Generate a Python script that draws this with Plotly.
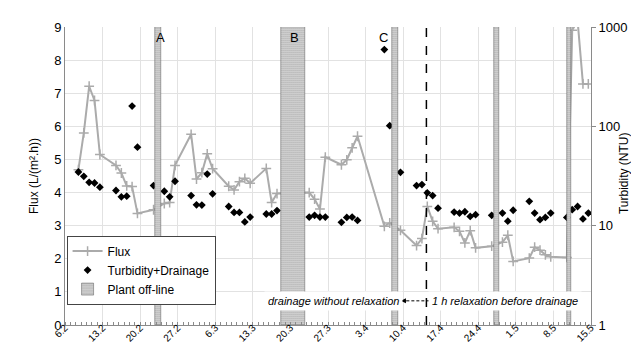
import plotly.graph_objects as go
from datetime import datetime

# ---------------- data ----------------
sample_dates = [
    "2010-02-08", "2010-02-09", "2010-02-10", "2010-02-11", "2010-02-12",
    "2010-02-15", "2010-02-16", "2010-02-17", "2010-02-18", "2010-02-19",
    "2010-02-22", "2010-02-24", "2010-02-25", "2010-02-26",
    "2010-03-01", "2010-03-02", "2010-03-03", "2010-03-04", "2010-03-05",
    "2010-03-08", "2010-03-09", "2010-03-10", "2010-03-11", "2010-03-12",
    "2010-03-15", "2010-03-16", "2010-03-17",
    "2010-03-23", "2010-03-24", "2010-03-25", "2010-03-26",
    "2010-03-29", "2010-03-30", "2010-03-31", "2010-04-01",
    "2010-04-06", "2010-04-07", "2010-04-09",
    "2010-04-12", "2010-04-13", "2010-04-14", "2010-04-15", "2010-04-16",
    "2010-04-19", "2010-04-20", "2010-04-21", "2010-04-22", "2010-04-23",
    "2010-04-26", "2010-04-28", "2010-04-29", "2010-04-30",
    "2010-05-03", "2010-05-04", "2010-05-05", "2010-05-06", "2010-05-07",
    "2010-05-10", "2010-05-11", "2010-05-12", "2010-05-13", "2010-05-14",
]
sample_time = "12:00"

flux = [
    4.69, 5.80, 7.21, 6.78, 5.15,
    4.82, 4.59, 4.20, 4.18, 3.37,
    3.48, 3.67, 3.70, 4.82,
    5.76, 4.41, 4.60, 5.17, 4.72,
    4.19, 4.08, 4.33, 4.43, 4.28,
    4.73, 3.70, 3.97,
    4.00, 3.80, 3.50, 5.07,
    4.84, 4.99, 5.35, 5.70,
    2.98, 3.08, 2.86,
    2.40, 2.61, 3.58, 3.13, 2.91,
    2.95, 2.83, 2.48, 2.85, 2.33,
    2.38, 2.50, 2.71, 1.92,
    2.02, 2.35, 2.26, 2.12, 2.06,
    2.04, 8.90, 9.20, 7.28, 7.28,
]

turbidity = [
    34.7, 31.4, 27.3, 26.9, 24.4,
    22.6, 19.5, 19.8, 160.0, 61.7,
    25.3, 22.2, 19.5, 28.0,
    20.1, 16.2, 16.1, 33.1, 20.9,
    15.6, 13.6, 13.6, 10.9, 12.2,
    13.1, 13.1, 14.2,
    12.2, 12.7, 12.2, 12.2,
    10.8, 12.1, 12.2, 11.3,
    593.0, 101.5, 34.4,
    25.3, 25.9, 21.4, 20.1, 15.0,
    13.7, 13.4, 13.8, 12.4, 12.9,
    12.7, 13.4, 11.1, 14.3,
    17.6, 13.4, 11.5, 12.1, 13.4,
    12.1, 14.5, 15.6, 11.7, 13.4,
]

offline_start = ["2010-02-22 19:00", "2010-03-18 07:00", "2010-04-08 00:00",
                 "2010-04-26 21:00", "2010-05-10 14:00"]
offline_end = ["2010-02-23 22:00", "2010-03-22 17:00", "2010-04-08 23:00",
               "2010-04-27 19:00", "2010-05-11 07:00"]

tick_dates = ["2010-02-06", "2010-02-13", "2010-02-20", "2010-02-27",
              "2010-03-06", "2010-03-13", "2010-03-20", "2010-03-27",
              "2010-04-03", "2010-04-10", "2010-04-17", "2010-04-24",
              "2010-05-01", "2010-05-08", "2010-05-15"]
tick_labels = ["6.2", "13.2", "20.2", "27.2", "6.3", "13.3", "20.3", "27.3",
               "3.4", "10.4", "17.4", "24.4", "1.5", "8.5", "15.5"]

# ---------------- build ----------------
x_pts = [f"{d} {sample_time}" for d in sample_dates]

fmt = "%Y-%m-%d %H:%M"
band_center, band_width = [], []
for s, e in zip(offline_start, offline_end):
    ds, de = datetime.strptime(s, fmt), datetime.strptime(e, fmt)
    band_center.append((ds + (de - ds) / 2).strftime(fmt))
    band_width.append((de - ds).total_seconds() * 1000)

FONT = "Liberation Sans, Arial, sans-serif"
GRID = "#e2e2e2"
AXIS = "#8a8a8a"

fig = go.Figure()

fig.add_trace(go.Scatter(
    x=x_pts, y=flux, name="Flux", mode="lines+markers",
    line=dict(color="#ababab", width=2),
    marker=dict(symbol="cross-thin", size=7, color="#ababab",
                line=dict(color="#ababab", width=1.5)),
    yaxis="y",
))

fig.add_trace(go.Scatter(
    x=x_pts, y=turbidity, name="Turbidity+Drainage", mode="markers",
    marker=dict(symbol="diamond", size=6, color="black"),
    yaxis="y2",
))

fig.add_trace(go.Bar(
    x=band_center, y=[9] * len(band_center), base=0, width=band_width,
    name="Plant off-line",
    marker=dict(color="white",
                pattern=dict(shape=".", fgcolor="#222", size=2, solidity=0.6),
                line=dict(color="#555", width=0.5)),
    yaxis="y3",
))

fig.update_layout(
    width=639, height=343,
    margin=dict(l=57, r=56, t=19, b=26),
    paper_bgcolor="white", plot_bgcolor="white",
    font=dict(family=FONT, color="black", size=12),
    showlegend=True,
    legend=dict(x=0.003, y=0.30, xanchor="left", yanchor="top",
                bgcolor="white", bordercolor="#444", borderwidth=1,
                font=dict(size=12), tracegroupgap=0, itemwidth=30),
    xaxis=dict(
        type="date", range=["2010-02-06", "2010-05-15"],
        tickmode="array", tickvals=tick_dates, ticktext=tick_labels,
        tickangle=-45, tickfont=dict(size=10),
        ticklabelstandoff=-8,
        showgrid=True, gridcolor=GRID, gridwidth=1,
        showline=True, linecolor=AXIS, linewidth=1,
        ticks="", automargin=False,
        minor=dict(tickmode="linear", tick0="2010-02-06", dtick=86400000,
                   ticks="inside", ticklen=3, tickcolor=AXIS, showgrid=False),
    ),
    yaxis=dict(
        range=[0, 9], dtick=1, tickfont=dict(size=13),
        showgrid=True, gridcolor=GRID, zeroline=False,
        showline=True, linecolor=AXIS, ticks="",
        title=dict(text="Flux (L/(m\u00b2.h))", font=dict(size=12), standoff=12),
        automargin=False,
    ),
    yaxis2=dict(
        type="log", range=[0, 3], overlaying="y", side="right",
        tickmode="array", tickvals=[1, 10, 100, 1000],
        ticktext=["1", "10", "100", "1000"], tickfont=dict(size=13),
        showgrid=False, zeroline=False,
        showline=True, linecolor=AXIS, ticks="outside", ticklen=4, tickcolor=AXIS,
        automargin=False,
    ),
    yaxis3=dict(range=[0, 9], overlaying="y", visible=False),
    bargap=0,
)

# right axis title
fig.add_annotation(x=1.08, y=0.51, xref="paper", yref="paper",
                   text="Turbidity (NTU)", textangle=-90, showarrow=False,
                   font=dict(size=12, family=FONT))

# dashed vertical line (start of relaxation)
fig.add_shape(type="line", xref="x", yref="paper",
              x0="2010-04-14 08:00", x1="2010-04-14 08:00", y0=0, y1=1,
              line=dict(color="black", width=1.5, dash="dash"))

# dashed double arrow
fig.add_shape(type="line", xref="x", yref="y",
              x0="2010-04-09 16:00", x1="2010-04-16 00:00", y0=0.73, y1=0.73,
              line=dict(color="black", width=1, dash="3px,2px"))
for tip, off in [("2010-04-09 14:00", 7), ("2010-04-16 02:00", -7)]:
    fig.add_annotation(x=tip, y=0.73, xref="x", yref="y", text="",
                       showarrow=True, ax=off, ay=0, axref="pixel", ayref="pixel",
                       arrowhead=2, arrowsize=1, arrowwidth=1, arrowcolor="black")

# labels of off-line periods
for lbl, xd in [("A", "2010-02-23 17:00"), ("B", "2010-03-20 16:00"), ("C", "2010-04-06 06:00")]:
    fig.add_annotation(x=xd, y=8.67, xref="x", yref="y", text=lbl, showarrow=False,
                       font=dict(size=13, family=FONT))

fig.add_annotation(x="2010-03-28 00:00", y=0.73, xref="x", yref="y",
                   text="<i>drainage without relaxation</i>", showarrow=False,
                   bgcolor="white", borderpad=3, font=dict(size=11, family=FONT))
fig.add_annotation(x="2010-04-29 00:00", y=0.73, xref="x", yref="y",
                   text="<i>1 h relaxation before drainage</i>", showarrow=False,
                   bgcolor="white", borderpad=3, font=dict(size=11, family=FONT))

fig.write_html("out.html")
